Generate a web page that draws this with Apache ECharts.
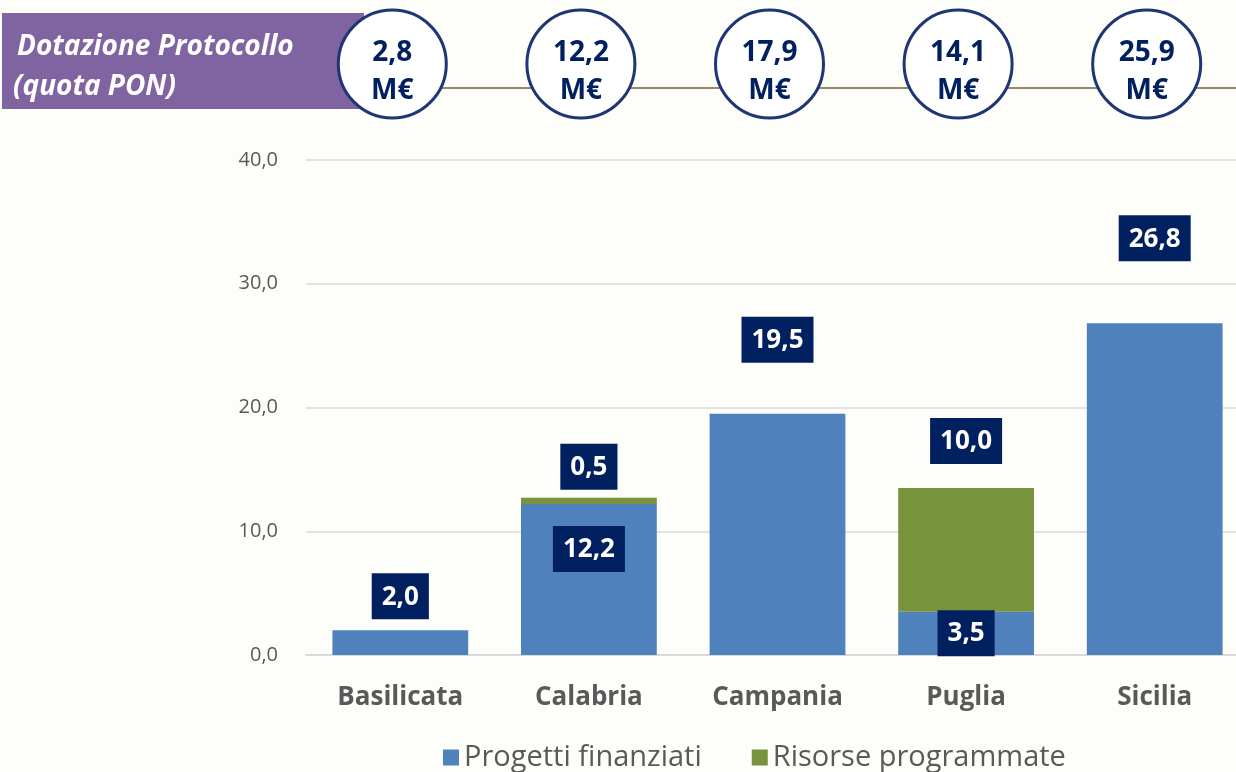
<!DOCTYPE html>
<html>
<head>
<meta charset="utf-8">
<script src="https://cdn.jsdelivr.net/npm/echarts@6/dist/echarts.min.js"></script>
<style>
  html, body { margin: 0; padding: 0; background: #fdfdf9; }
  #chart { width: 1236px; height: 772px; }
</style>
</head>
<body>
<div id="chart"></div>
<script>
// Regions and amounts (M€)
const regions = ['Basilicata', 'Calabria', 'Campania', 'Puglia', 'Sicilia'];
const progettiFinanziati = [2.0, 12.2, 19.5, 3.5, 26.8];
const risorseProgrammate = [null, 0.5, null, 10.0, null];
const dotazioneProtocollo = [2.8, 12.2, 17.9, 14.1, 25.9];
const yTicks = { min: 0, max: 40, interval: 10 };

const BLUE = '#4f81bd';
const GREEN = '#77933c';
const NAVY = '#002060';
const GREY = '#595959';
const FONT = '"Open Sans", "Noto Sans", sans-serif';

const fmt = v => v.toFixed(1).replace('.', ',');

// label placement for each bar segment
const blueLabelPos = [
  { position: 'top', distance: 11 },
  { position: 'insideTop', distance: 22 },
  { position: 'top', distance: 51 },
  { position: 'inside' },
  { position: 'top', distance: 62 }
];
const greenLabelPos = [null, { position: 'top', distance: 8 }, null, { position: 'top', distance: 24 }, null];

const labelBox = {
  show: true,
  formatter: p => fmt(p.value),
  color: '#ffffff',
  fontFamily: FONT,
  fontWeight: 'bold',
  fontSize: 26,
  lineHeight: 30,
  backgroundColor: NAVY,
  padding: [9, 10, 7, 10]
};

const chart = echarts.init(document.getElementById('chart'));

chart.setOption({
  backgroundColor: '#fdfdf9',
  animation: false,
  grid: { left: 306, top: 160, width: 943, height: 495, containLabel: false, outerBoundsMode: 'none' },
  legend: {
    left: 438,
    top: 738,
    itemWidth: 16,
    itemHeight: 16,
    itemGap: 50,
    icon: 'rect',
    textStyle: { color: GREY, fontFamily: FONT, fontSize: 29 },
    data: ['Progetti finanziati', 'Risorse programmate']
  },
  xAxis: {
    type: 'category',
    data: regions,
    axisLine: { lineStyle: { color: '#d9d9d9', width: 2 } },
    axisTick: { show: false },
    axisLabel: { color: GREY, fontFamily: FONT, fontWeight: 'bold', fontSize: 26, margin: 30 }
  },
  yAxis: {
    type: 'value',
    min: yTicks.min,
    max: yTicks.max,
    interval: yTicks.interval,
    axisLine: { show: false },
    axisTick: { show: false },
    splitLine: { lineStyle: { color: '#d9d9d9', width: 1.5 } },
    axisLabel: { color: GREY, fontFamily: FONT, fontSize: 20, margin: 28, formatter: v => fmt(v) }
  },
  series: [
    {
      name: 'Progetti finanziati',
      type: 'bar',
      stack: 'tot',
      barCategoryGap: '28%',
      itemStyle: { color: BLUE },
      data: progettiFinanziati.map((v, i) => ({
        value: v,
        label: Object.assign({}, labelBox, blueLabelPos[i])
      }))
    },
    {
      name: 'Risorse programmate',
      type: 'bar',
      stack: 'tot',
      itemStyle: { color: GREEN },
      data: risorseProgrammate.map((v, i) => ({
        value: v,
        label: greenLabelPos[i] ? Object.assign({}, labelBox, greenLabelPos[i]) : { show: false }
      }))
    }
  ]
});

// Header: banner, rule line and the allocation badges above each region
function drawHeader() {
  const elements = [
    { type: 'line', shape: { x1: 360, y1: 88, x2: 1236, y2: 88 }, style: { stroke: '#948a6a', lineWidth: 2 }, z: 1 },
    { type: 'rect', shape: { x: 2, y: 13, width: 362, height: 96 }, style: { fill: '#8064a2' }, z: 1 },
    { type: 'text', x: 17, y: 47, style: { text: 'Dotazione Protocollo', fill: '#ffffff', font: 'italic bold 28px ' + FONT, textVerticalAlign: 'middle' }, z: 2 },
    { type: 'text', x: 13, y: 87, style: { text: '(quota PON)', fill: '#ffffff', font: 'italic bold 28px ' + FONT, textVerticalAlign: 'middle' }, z: 2 }
  ];
  regions.forEach((r, i) => {
    const cx = chart.convertToPixel({ xAxisIndex: 0 }, r) - 8;
    elements.push({
      type: 'circle',
      shape: { cx: cx, cy: 64, r: 54 },
      style: { fill: '#ffffff', stroke: '#1f3574', lineWidth: 3 },
      z: 3
    });
    elements.push({
      type: 'text', x: cx, y: 53,
      style: { text: fmt(dotazioneProtocollo[i]), fill: NAVY, font: 'bold 28px ' + FONT, textAlign: 'center', textVerticalAlign: 'middle' },
      z: 4
    });
    elements.push({
      type: 'text', x: cx, y: 91,
      style: { text: 'M€', fill: NAVY, font: 'bold 28px ' + FONT, textAlign: 'center', textVerticalAlign: 'middle' },
      z: 4
    });
  });
  chart.setOption({ graphic: elements });
}
drawHeader();
</script>
</body>
</html>
